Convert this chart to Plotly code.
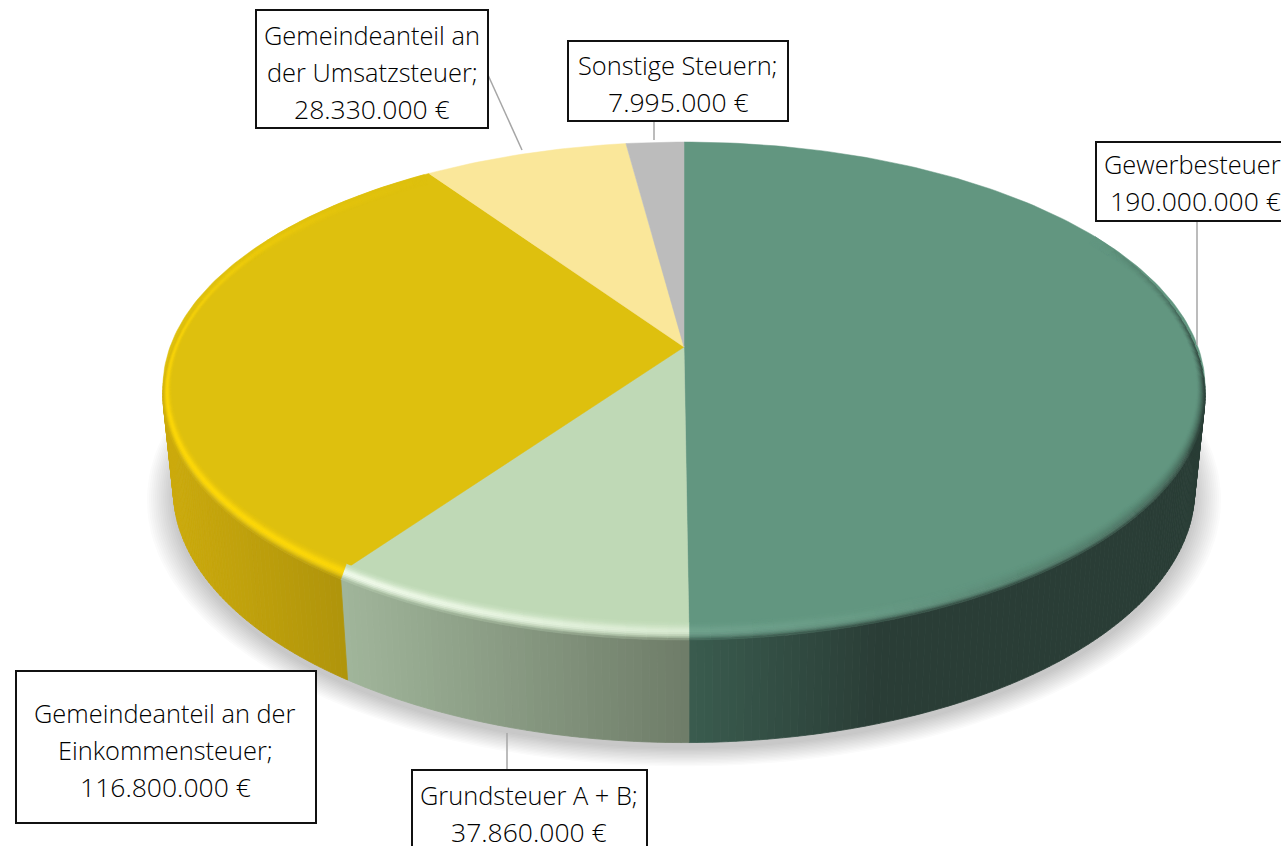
import numpy as np
import plotly.graph_objects as go

# ---- data ----
categories = ["Gewerbesteuer", "Grundsteuer A + B", "Gemeindeanteil an der Einkommensteuer",
              "Gemeindeanteil an der Umsatzsteuer", "Sonstige Steuern"]
values = [190000000, 37860000, 116800000, 28330000, 7995000]
label_lines = [["Gewerbesteuer;"], ["Grundsteuer A + B;"], ["Gemeindeanteil an der", "Einkommensteuer;"],
               ["Gemeindeanteil an", "der Umsatzsteuer;"], ["Sonstige Steuern;"]]
top_colors = ["#629680", "#BFD9B6", "#DEC00E", "#FAE79A", "#BCBCBC"]
hi_colors = ["#80B09C", "#F6FFF0", "#FFD908", "#FFF4C0", "#DDDDDD"]
side_left = ["#3A5C4F", "#A0B59A", "#CBAA0C", "#C8B97B", "#969696"]
side_right = ["#2A3D36", "#6E7C68", "#AE930B", "#C8B97B", "#969696"]
side_span = [(689, 880), (345, 689), (170, 350), (0, 1), (0, 1)]

# label boxes: x0, y0, x1, y1, text centre x, first line centre y
boxes = [(1096, 142, 1300, 221, 1195, 164), (412, 770, 647, 860, 529, 795), (16, 671, 316, 823, 165, 713),
         (256, 10, 488, 128, 372, 35), (568, 41, 788, 121, 678, 65)]
leaders = [((1197, 222), (1197, 345)), ((507, 733), (507, 770)), None,
           ((488, 75), (522, 150)), ((654, 121), (654, 140))]

LINE_H = 37
FONT = "Open Sans"
FONT_SIZE = 25.4
NUM_SIZE = 26.5

# ---- projection ----
CX, CY, A, B, K = 684.0, 347.0, 238.8, 514.0, 0.165
DROP, S_BOT, SY_BOT = 101.0, 0.98, 1.03


def project(theta_deg, r=1.0, low=False):
    t = np.radians(theta_deg)
    X, Y = r * np.sin(t), r * np.cos(t)
    w = 1 + K * Y
    s, sy, d = (S_BOT, SY_BOT, DROP) if low else (1.0, 1.0, 0.0)
    return CX + s * B * X / w, CY + d - sy * A * Y / w


def rim_drop(theta_deg):
    return 7.0 * np.clip((0.5 - np.cos(np.radians(theta_deg))) / 0.5, 0, 1)


def hex2rgb(h):
    return np.array([int(h[i:i + 2], 16) for i in (1, 3, 5)], float)


def mix(c1, c2, f):
    return c1 + (c2 - c1) * f


def css(c):
    c = np.clip(c, 0, 255).round().astype(int)
    return f"rgb({c[0]},{c[1]},{c[2]})"


fig = go.Figure()


def poly(xs, ys, color, line=0.8):
    fig.add_trace(go.Scatter(x=list(xs), y=list(ys), mode="lines", fill="toself", fillcolor=color,
                             line=dict(color=color, width=line), hoverinfo="skip", showlegend=False))


fractions = np.array(values, float) / sum(values)
edges = np.concatenate([[0], np.cumsum(fractions)]) * 360


def steps(a, b, d=2.5):
    n = max(int(np.ceil((b - a) / d)), 1)
    return np.linspace(a, b, n + 1)


# ---- shadow ----
n_sh = 14
for i in range(n_sh):
    r = 1.05 - 0.05 * i / (n_sh - 1)
    th = np.linspace(0, 360, 240)
    x, y = project(th, r, True)
    poly(x, y + 6, "rgba(60,60,60,0.018)", line=0)


def side_color(i, x):
    a, b = side_span[i]
    f = np.clip((x - a) / (b - a), 0, 1)
    return mix(hex2rgb(side_left[i]), hex2rgb(side_right[i]), f)


# ---- side wall ----
for i in range(len(values)):
    a, b = max(edges[i], 70), min(edges[i + 1], 290)
    if b <= a:
        continue
    th = steps(a, b, 0.75)
    for t0, t1 in zip(th[:-1], th[1:]):
        x0, y0 = project(t0)
        x1, y1 = project(t1)
        y0, y1 = y0 + rim_drop(t0), y1 + rim_drop(t1)
        x2, y2 = project(t1, 1, True)
        x3, y3 = project(t0, 1, True)
        poly([x0, x1, x2, x3, x0], [y0, y1, y2, y3, y0], css(side_color(i, (x0 + x1) / 2)))

# ---- top wedges ----
for i in range(len(values)):
    th = steps(edges[i], edges[i + 1], 1.0)
    x, y = project(th)
    poly(np.r_[CX, x, CX], np.r_[CY, y, CY], top_colors[i], line=0.5)


# ---- rounded rim ----
def band_point(theta, u):
    """point across the rim band: u = 0 on the face, u = 1 on the outer edge."""
    x, y = project(theta)
    return (CX + (x - CX) * (1 - 0.016 * (1 - u)),
            392 + (y - 392) * (1 - 0.045 * (1 - u)) + rim_drop(theta) * u)


n_bands = 10
for i in range(len(values)):
    a, b = max(edges[i], 60), min(edges[i + 1], 325)
    if b <= a:
        continue
    th = steps(a, b, 2.0)
    top = hex2rgb(top_colors[i])
    hi = hex2rgb(hi_colors[i])
    for t0, t1 in zip(th[:-1], th[1:]):
        tm = (t0 + t1) / 2
        L = np.clip(np.cos(np.radians(tm - 235)), 0, 1) ** 1.2
        dark = np.clip((165 - tm) / 60, 0, 1) * np.clip((tm - 62) / 30, 0, 1)
        front = np.clip((285 - tm) / 30, 0, 1) * np.clip((tm - 75) / 25, 0, 1)
        xm = (project(t0)[0] + project(t1)[0]) / 2
        sc = side_color(i, xm)
        for j in range(n_bands):
            u0, u1 = j / n_bands, (j + 1) / n_bands
            u = (u0 + u1) / 2
            h = L * np.exp(-((u - 0.55) / 0.32) ** 2)
            d = max(u ** 6 * front, u ** 1.6 * dark)
            c = mix(mix(top, hi, h), sc, d)
            p = [band_point(t0, u0), band_point(t1, u0), band_point(t1, u1), band_point(t0, u1)]
            p.append(p[0])
            poly([q[0] for q in p], [q[1] for q in p], css(c), line=0.6)

# ---- leaders, boxes, labels ----
shapes, annotations = [], []
for seg in leaders:
    if seg:
        shapes.append(dict(type="line", xref="x", yref="y", x0=seg[0][0], y0=seg[0][1], x1=seg[1][0], y1=seg[1][1],
                           line=dict(color="#A6A6A6", width=1.5), layer="above"))
for i, box in enumerate(boxes):
    x0, y0, x1, y1, tx, ty = box
    shapes.append(dict(type="rect", xref="x", yref="y", x0=x0, y0=y0, x1=x1, y1=y1,
                       fillcolor="white", line=dict(color="#111111", width=2), layer="above"))
    v = f"{values[i]:,}".replace(",", ".") + " €"
    rows = label_lines[i] + [v]
    for j, line in enumerate(rows):
        size = NUM_SIZE if j == len(rows) - 1 else FONT_SIZE
        annotations.append(dict(x=tx, y=ty + j * LINE_H, xref="x", yref="y", text=line, showarrow=False,
                                xanchor="center", yanchor="middle",
                                font=dict(family=FONT, size=size, color="#000000", weight=300)))

fig.update_layout(
    width=1281, height=846, autosize=False, margin=dict(l=0, r=0, t=0, b=0),
    paper_bgcolor="white", plot_bgcolor="white", showlegend=False,
    xaxis=dict(range=[0, 1281], visible=False, fixedrange=True),
    yaxis=dict(range=[846, 0], visible=False, fixedrange=True),
    shapes=shapes, annotations=annotations,
)
fig.write_html("out.html", config={"displayModeBar": False},
               post_script="document.body.style.margin='0';document.documentElement.style.overflow='hidden';")
